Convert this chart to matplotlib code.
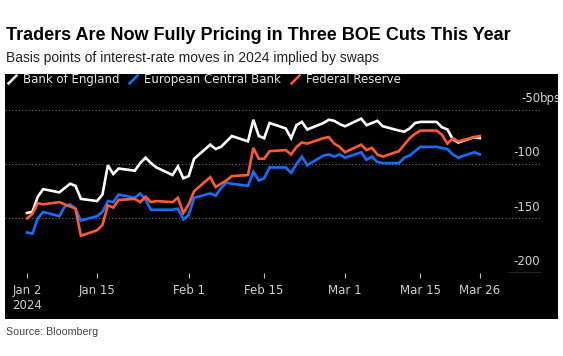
import numpy as np
import pandas as pd
import matplotlib
matplotlib.use('Agg')
import matplotlib.pyplot as plt
import matplotlib.dates as mdates
import matplotlib.transforms as mtransforms
from matplotlib.lines import Line2D
from matplotlib.patches import Rectangle

# ── Data (bps implied by swaps, business days) ───────────────────────────────
dates = pd.bdate_range('2024-01-02', '2024-03-26')

boe = [-145, -144, -130, -123, -126, -122, -118, -120, -132, -134,
       -128, -101, -109, -104, -106, -99, -94, -99, -103, -110,
       -102, -113, -111, -95, -82, -86, -84, -79, -74, -79,
       -59, -74, -76, -62, -67, -76, -64, -61, -68, -62,
       -59, -60, -63, -65, -58, -64, -62, -60, -65, -69,
       -70, -67, -62, -61, -61, -66, -68, -77, -80, -75, -76]

ecb = [-163, -164, -150, -144, -148, -139, -137, -141, -152, -148,
       -144, -134, -135, -128, -131, -127, -133, -142, -142, -142,
       -141, -151, -147, -131, -127, -129, -122, -117, -118, -120,
       -107, -115, -113, -103, -103, -108, -100, -93, -101, -92,
       -91, -93, -91, -94, -89, -96, -93, -98, -99, -99,
       -94, -92, -88, -84, -84, -85, -86, -91, -94, -89, -91]

fed = [-150, -146, -136, -137, -135, -137, -139, -141, -166, -161,
       -156, -138, -140, -133, -132, -135, -130, -135, -134, -135,
       -131, -145, -137, -125, -112, -121, -118, -115, -111, -110,
       -85, -95, -95, -88, -87, -91, -84, -80, -81, -76,
       -75, -81, -84, -89, -82, -87, -85, -91, -93, -88,
       -82, -76, -72, -69, -69, -73, -81, -76, -79, -75, -74]

series_names = ['Bank of England', 'European Central Bank', 'Federal Reserve']
series_colors = ['#ffffff', '#1070ff', '#ff5b2b']

tick_dates = pd.to_datetime(['2024-01-02', '2024-01-15', '2024-02-01', '2024-02-15',
                             '2024-03-01', '2024-03-15', '2024-03-26'])
tick_labels = ['Jan 2\n2024', 'Jan 15', 'Feb 1', 'Feb 15', 'Mar 1', 'Mar 15', 'Mar 26']
grid_levels = [-50, -100, -150]
level_labels = ['-50', '-100', '-150', '-200']

# ── Figure ────────────────────────────────────────────────────────────────────
W, H = 563, 356
fig = plt.figure(figsize=(W / 100, H / 100), dpi=100)
fig.patch.set_facecolor('white')

# black panel behind the chart
fig.add_artist(Rectangle((5 / W, (H - 319) / H), 553 / W, 245 / H,
                         transform=fig.transFigure, facecolor='black',
                         edgecolor='none', zorder=0))

ax = fig.add_axes([5 / W, (H - 272.6) / H, 553 / W, (272.6 - 74) / H])
ax.set_facecolor('black')
for s in ax.spines.values():
    s.set_visible(False)

x0 = mdates.date2num(pd.Timestamp('2024-01-02'))
px_per_day = 5.39
ax.set_xlim(x0 - 22 / px_per_day, x0 + 531 / px_per_day)
ax.set_ylim(-200, -16.8)

for vals, c in zip([boe, ecb, fed], series_colors):
    ax.plot(dates, vals, color=c, lw=1.9, solid_joinstyle='miter', zorder=3)

# gridlines and right-hand labels
gx = (540 - 5) / 553
for lv in grid_levels:
    ax.axhline(lv, xmin=0, xmax=gx, color='#707070', lw=0.8,
               linestyle=(0, (1, 2)), zorder=1)
ax.axhline(-200, xmin=(508 - 5) / 553, xmax=gx, color='#bdbdbd', lw=1.0, zorder=1)

trans = mtransforms.blended_transform_factory(ax.transAxes, ax.transData)
for lv, lab in zip(grid_levels + [-200], level_labels):
    ax.annotate(lab, xy=(gx, lv), xycoords=trans, xytext=(0, 3.5),
                textcoords='offset points', ha='right', va='bottom',
                color='#cfcfcf', fontsize=8.5)
ax.annotate('bps', xy=(gx, -50), xycoords=trans, xytext=(0, 3.5),
            textcoords='offset points', ha='left', va='bottom',
            color='#cfcfcf', fontsize=8.5)

ax.set_yticks([])
ax.set_xticks(tick_dates)
ax.set_xticklabels(tick_labels, color='#cfcfcf', fontsize=8.5)
ax.tick_params(axis='x', length=3.6, width=0.8, color='#bdbdbd', pad=4.5)

# legend with slash markers
handles = [Line2D([], [], color=c, marker=[(-1, -1), (1, 1)], markersize=7,
                  markeredgewidth=1.8, linestyle='None') for c in series_colors]
ax.legend(handles, series_names, loc='upper left', bbox_to_anchor=(0, 1.015),
          ncol=3, frameon=False, handlelength=0.8, handletextpad=0.5,
          columnspacing=0.8, borderaxespad=0, borderpad=0.2,
          labelcolor='#e6e6e6', fontsize=8.5)

# titles and source
fig.text(6 / W, (H - 40) / H, 'Traders Are Now Fully Pricing in Three BOE Cuts This Year',
         fontsize=13, fontweight='bold', family='Liberation Sans', color='black',
         va='baseline', ha='left')
fig.text(6 / W, (H - 61.7) / H, 'Basis points of interest-rate moves in 2024 implied by swaps',
         fontsize=10, family='Liberation Sans', color='#222222', va='baseline', ha='left')
fig.text(6 / W, (H - 335) / H, 'Source: Bloomberg', fontsize=7.7,
         family='Liberation Sans', color='#444444', va='baseline', ha='left')

fig.savefig('out.png', dpi=100)
